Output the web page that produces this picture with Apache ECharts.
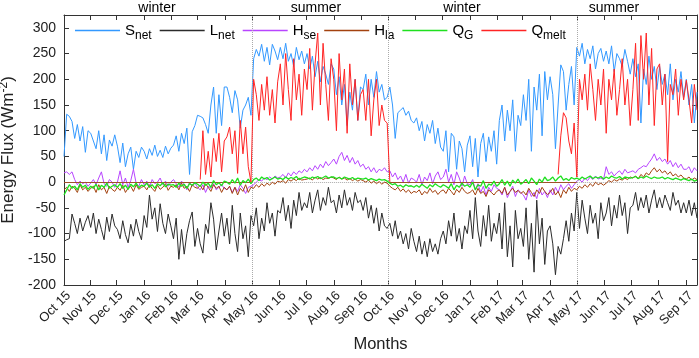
<!DOCTYPE html>
<html><head><meta charset="utf-8">
<script src="https://cdn.jsdelivr.net/npm/echarts@6/dist/echarts.min.js"></script>
<style>html,body{margin:0;padding:0;background:#fff}#c{width:699px;height:358px}</style>
</head><body><div id="c"></div>
<script>
// Day offsets are counted from 3 Oct 2015; samples every 3 days.
const sampleStep = 3;
const xMax = 711;
const tickDays = [0,29,59,90,121,150,181,211,242,272,303,334,364,395,425,456,487,515,546,576,607,637,668,699];
const tickLabels = ['Oct 15','Nov 15','Dec 15','Jan 16','Feb 16','Mar 16','Apr 16','May 16','Jun 16','Jul 16','Aug 16','Sep 16','Oct 16','Nov 16','Dec 16','Jan 17','Feb 17','Mar 17','Apr 17','May 17','Jun 17','Jul 17','Aug 17','Sep 17'];
const yTicks = [-200,-150,-100,-50,0,50,100,150,200,250,300];
const seasonBreaks = [211,364,576];
const seasonNames = ['winter','summer','winter','summer'];
const seriesNames = ['S_net','L_net','H_se','H_la','Q_G','Q_melt'];

const sNet = [
50,132,128,118,85,112,80,108,58,100,
95,80,65,100,55,92,42,82,70,92,
70,38,76,30,55,68,25,60,48,68,
60,45,65,52,72,50,62,48,70,55,66,
72,90,60,95,75,105,15,98,110,
130,128,125,112,95,150,185,95,170,110,185,
185,165,135,178,160,105,140,150,165,130,
240,258,245,268,235,262,228,268,255,238,
262,240,270,235,250,225,262,238,255,230,
250,220,245,205,235,195,225,210,190,230,
220,170,205,150,190,110,175,140,200,120,185,
180,210,150,200,165,215,175,190,160,165,
185,150,85,135,140,145,130,138,120,115,
125,100,118,80,112,95,120,75,105,68,
60,100,20,95,88,25,80,65,20,72,
90,30,85,10,75,95,40,88,60,100,35,
120,150,80,140,100,160,60,130,110,
170,120,200,60,185,140,210,90,215,160,
205,170,65,150,228,215,140,190,225,150,
262,245,270,230,258,240,265,220,250,260,235,
255,230,265,215,250,240,225,258,235,210,
240,205,230,115,220,190,245,200,225,180,
225,190,210,170,230,160,200,175,215,165,
200,150,190,115,175];

const lNet = [
-115,-112,-110,-62,-80,-100,-70,-95,-78,-65,
-88,-60,-100,-72,-92,-112,-68,-96,-62,-85,
-92,-110,-75,-102,-118,-82,-105,-72,-96,-112,
-65,-88,-25,-72,-50,-96,-42,-80,-100,-62,-85,
-110,-70,-150,-92,-140,-100,-75,-58,-125,
-90,-120,-138,-82,-100,-40,-72,-132,-95,-60,-105,
-70,-120,-45,-100,-135,-60,-110,-85,-145,-65,
-85,-50,-110,-70,-95,-40,-80,-60,-105,-55,
-60,-30,-75,-45,-90,-35,-65,-20,-55,-40,
-50,-20,-60,-35,-15,-55,-30,-45,-10,-40,
-35,-60,-25,-50,-15,-45,-30,-55,-20,-40,-35,
-55,-30,-70,-45,-80,-50,-95,-60,-85,-90,
-80,-105,-75,-110,-95,-120,-100,-130,-90,-115,
-135,-105,-140,-115,-145,-110,-135,-120,-140,-110,
-95,-120,-75,-105,-60,-115,-90,-130,-85,-100,
-55,-110,-30,-95,-125,-65,-105,-45,-115,-80,-100,
-60,-130,-40,-145,-85,-165,-55,-110,-90,
-125,-50,-150,-80,-175,-35,-120,-70,-160,-95,
-85,-120,-180,-125,-140,-110,-75,-115,-60,-95,
-20,-90,-35,-70,-100,-45,-80,-60,-110,-40,-75,
-60,-30,-85,-45,-70,-25,-65,-40,-100,-50,
-45,-20,-55,-30,-50,-25,-60,-35,-15,-50,
-30,-50,-25,-40,-55,-20,-45,-35,-60,-40,
-60,-35,-65,-40,-70];

const hSe = [
18,20,15,20,5,-5,2,-3,0,-8,
-2,5,-5,8,20,-3,-8,5,0,-10,
0,22,-5,8,-10,3,25,-2,-8,5,
-5,2,-10,5,-3,0,8,-5,2,-8,0,
5,-3,-10,2,-5,-15,0,-8,-2,
-10,-15,-5,-20,-8,-12,-3,-15,-10,-5,-12,
-15,-8,-20,-10,-18,-5,-12,-22,-10,-8,
-5,0,5,2,8,5,10,6,12,8,
10,15,8,18,12,20,15,22,18,25,
20,28,22,32,25,35,28,40,32,38,
45,35,50,58,42,52,38,48,35,42,30,
35,25,30,20,28,18,25,22,28,20,
22,10,18,5,12,0,15,-2,8,5,
0,15,-5,10,3,18,-3,12,20,5,
10,25,0,15,-5,20,8,-8,12,-3,
-5,5,-15,-3,-20,-8,-25,-10,-18,-5,-12,
-15,-25,-10,-30,-18,-8,-28,-15,-20,
-25,-35,-15,-28,-20,-32,-12,-25,-18,-30,
-15,-25,-10,-20,-5,-15,-8,-3,-12,-5,
2,5,0,8,3,10,5,12,6,8,5,
30,15,20,12,18,22,15,25,18,20,
22,18,25,28,32,30,38,45,55,42,
48,40,45,35,42,30,38,28,35,25,
25,30,18,28,22];

const hLa = [
-15,-10,-18,-8,-12,-20,-5,-15,-10,-18,
-12,-8,-20,-5,-15,-10,-22,-8,-14,-18,
-10,-16,-6,-20,-12,-8,-18,-5,-14,-10,
-8,-15,-5,-12,-18,-6,-14,-10,-3,-16,-8,
-10,-5,-15,-2,-12,-8,-18,-5,-10,
-12,-6,-15,-3,-10,-18,-5,-12,-8,-20,-10,
-15,-8,-22,-10,-25,-12,-18,-5,-20,-10,
-12,-5,-10,-3,-8,-2,-6,0,-4,2,
0,3,-2,5,2,6,3,8,4,5,
6,8,4,10,6,9,5,8,7,10,
8,5,10,6,8,4,7,3,6,2,5,
3,0,4,-2,2,-3,1,-4,0,-2,
-8,-12,-15,-10,-18,-13,-20,-15,-22,-18,
-20,-15,-25,-18,-22,-12,-20,-16,-24,-18,
-15,-22,-12,-18,-25,-14,-20,-10,-18,-22,
-20,-15,-25,-12,-22,-18,-28,-15,-20,-25,-18,
-15,-22,-10,-25,-18,-12,-20,-16,-22,
-18,-25,-12,-20,-28,-15,-22,-10,-18,-24,
-20,-12,-25,-18,-30,-15,-22,-10,-18,-12,
-15,-8,-12,-5,-10,-3,-8,0,-5,-2,-6,
-2,3,0,5,2,6,4,8,5,10,
8,12,6,15,10,18,14,22,28,20,
25,18,22,15,20,12,16,10,14,8,
6,10,4,8,5];

const qG = [
-25,-15,-5,-12,-8,-15,-3,-10,-6,-14,
-8,-12,-4,-15,-6,-10,-2,-12,-8,-5,
-10,-3,-12,-6,-14,-4,-9,-2,-11,-6,
-8,-2,-10,-5,-12,-3,-7,-1,-9,-4,-6,
-5,-10,-2,-8,-4,-12,-3,-6,-1,
-4,-8,0,-6,-2,-10,3,-5,-1,-7,2,
0,-4,5,-2,8,-6,3,-1,6,-3,
5,8,3,10,6,9,4,7,10,6,
8,5,10,6,9,7,11,5,8,10,
9,6,10,8,11,7,9,12,8,10,
10,7,9,6,10,8,6,9,5,8,7,
6,8,4,7,5,3,6,4,5,2,
-2,-5,-3,-8,-6,-10,-5,-8,-7,-10,
-6,-10,-4,-8,-12,-5,-9,-3,-7,-10,
-5,-8,-12,-3,-15,-6,-10,-2,-8,-5,
-10,0,-15,-5,-8,3,-12,-4,-6,2,-8,
-3,5,-6,2,-8,4,-2,6,-4,
0,5,-3,8,2,-5,6,0,10,3,
5,10,2,8,12,4,7,3,9,6,
8,5,10,6,9,12,7,10,8,11,6,
10,7,12,9,8,11,6,10,9,8,
9,11,7,10,8,12,9,7,10,8,
8,10,6,9,7,5,8,6,4,7,
5,3,6,2,4];

const N = null;
const qMelt = [
N,N,N,N,N,N,N,N,N,N,
N,N,N,N,N,N,N,N,N,N,
N,N,N,N,N,N,N,N,N,N,
N,N,N,N,N,N,N,N,N,N,N,
N,N,N,N,N,N,N,N,N,
N,5,100,15,60,10,85,40,95,20,80,
88,107,55,100,17,120,55,107,30,0,
200,170,120,190,140,205,130,180,115,195,
230,150,250,180,120,240,160,210,130,220,
180,260,140,230,290,150,270,190,120,240,
200,100,250,160,220,95,230,150,200,120,170,
180,120,200,90,160,200,110,150,120,115,
0,N,N,N,N,N,N,N,N,N,
N,N,N,N,N,N,N,N,N,N,
N,N,N,N,N,N,N,N,N,N,
N,N,N,N,N,N,N,N,N,N,N,
N,N,N,N,N,N,N,N,N,
N,N,N,N,N,N,N,N,N,N,
N,N,N,15,90,135,125,80,55,115,
10,200,160,210,140,230,180,120,200,150,220,
95,200,160,220,130,180,240,150,200,110,
180,270,120,285,200,290,150,260,110,220,
230,150,210,40,190,170,220,130,200,160,
198,160,115,190,140];

const pairs = arr => arr.map((v, i) => [i * sampleStep, v]);
const colors = ['#3399ff','#2b2b2b','#b845ff','#a3420f','#1fe01f','#ff2424'];
const widths = [1, 1, 1, 1, 1.3, 1];
const values = [sNet, lNet, hSe, hLa, qG, qMelt];
const legendText = {
  S_net: '{m|S}{s|net}', L_net: '{m|L}{s|net}', H_se: '{m|H}{s|se}',
  H_la: '{m|H}{s|la}', Q_G: '{m|Q}{s|G}', Q_melt: '{m|Q}{s|melt}'
};
const FONT = 'Liberation Sans, Arial, sans-serif';

const zeroSegs = [];
const bounds = [0].concat(seasonBreaks, [xMax]);
for (let k = 0; k < bounds.length - 1; k++) {
  const winter = k % 2 === 0;
  zeroSegs.push([
    {coord: [bounds[k], 0], lineStyle: winter ? {color: '#a0502a', type: 'solid', width: 1} : {color: '#aaaaaa', type: 'dotted', width: 1}},
    {coord: [bounds[k + 1], 0]}
  ]);
}

const series = seriesNames.map((name, si) => {
  const s = {
    name, type: 'line', data: pairs(values[si]), symbol: 'none', showSymbol: false,
    lineStyle: {width: widths[si], color: colors[si]}, itemStyle: {color: colors[si]},
    connectNulls: false, animation: false, z: 2 + si
  };
  if (si === 0) {
    s.markLine = {
      silent: true, symbol: ['none', 'none'], label: {show: false}, animation: false,
      lineStyle: {color: '#aaaaaa', type: 'dotted', width: 1},
      data: seasonBreaks.map(d => ({xAxis: d})).concat(zeroSegs)
    };
  }
  return s;
});

const axisLineStyle = {show: true, onZero: false, lineStyle: {color: '#333', width: 1}};
const seasonX = [157, 316, 462, 614];
const chart = echarts.init(document.getElementById('c'), null, {renderer: 'canvas'});
chart.setOption({
  animation: false,
  backgroundColor: '#fff',
  textStyle: {fontFamily: FONT},
  grid: {left: 64, right: 2, top: 15, bottom: 73, containLabel: false, outerBoundsMode: 'none'},
  legend: {
    data: seriesNames.map(n => ({name: n, icon: 'rect'})), left: 75, top: 23, padding: 0,
    itemWidth: 45, itemHeight: 1.3, itemGap: 8,
    formatter: n => legendText[n],
    textStyle: {fontFamily: FONT, color: '#000', rich: {
      m: {fontSize: 15, color: '#000', fontFamily: FONT},
      s: {fontSize: 12, color: '#000', fontFamily: FONT, padding: [10, 0, 0, 0]}
    }}
  },
  graphic: seasonNames.map((t, i) => ({
    type: 'text', x: seasonX[i], y: 8, style: {text: t, font: '14px ' + FONT, fill: '#000', textAlign: 'center', textVerticalAlign: 'middle'}
  })),
  xAxis: [{
    type: 'value', min: 0, max: xMax, position: 'bottom',
    name: 'Months', nameLocation: 'middle', nameGap: 51,
    nameTextStyle: {fontSize: 16.5, color: '#222', fontFamily: FONT},
    axisLine: axisLineStyle,
    axisTick: {inside: true, length: 5, customValues: tickDays, lineStyle: {color: '#333'}},
    axisLabel: {customValues: tickDays, rotate: 45, fontSize: 13, color: '#222', margin: 4, verticalAlign: 'top',
      formatter: v => { const k = tickDays.indexOf(Math.round(v)); return k >= 0 ? tickLabels[k] : ''; }},
    splitLine: {show: false}
  }, {
    type: 'value', min: 0, max: xMax, position: 'top',
    axisLine: axisLineStyle,
    axisTick: {inside: true, length: 5, customValues: tickDays, lineStyle: {color: '#333'}},
    axisLabel: {show: false}, splitLine: {show: false}
  }],
  yAxis: [{
    type: 'value', min: -200, max: 325, position: 'left',
    name: '{a|Energy Flux (Wm}{u|-2}{a|)}', nameLocation: 'middle', nameGap: 40,
    nameTextStyle: {color: '#222', rich: {
      a: {fontSize: 17, color: '#222', fontFamily: FONT},
      u: {fontSize: 12, color: '#222', fontFamily: FONT, padding: [0, 0, 9, 0]}
    }},
    axisLine: axisLineStyle,
    axisTick: {inside: true, length: 5, customValues: yTicks, lineStyle: {color: '#333'}},
    axisLabel: {customValues: yTicks, fontSize: 14, color: '#222', margin: 8},
    splitLine: {show: false}
  }, {
    type: 'value', min: -200, max: 325, position: 'right',
    axisLine: axisLineStyle,
    axisTick: {inside: true, length: 5, customValues: yTicks, lineStyle: {color: '#333'}},
    axisLabel: {show: false}, splitLine: {show: false}
  }],
  series
});
</script></body></html>
